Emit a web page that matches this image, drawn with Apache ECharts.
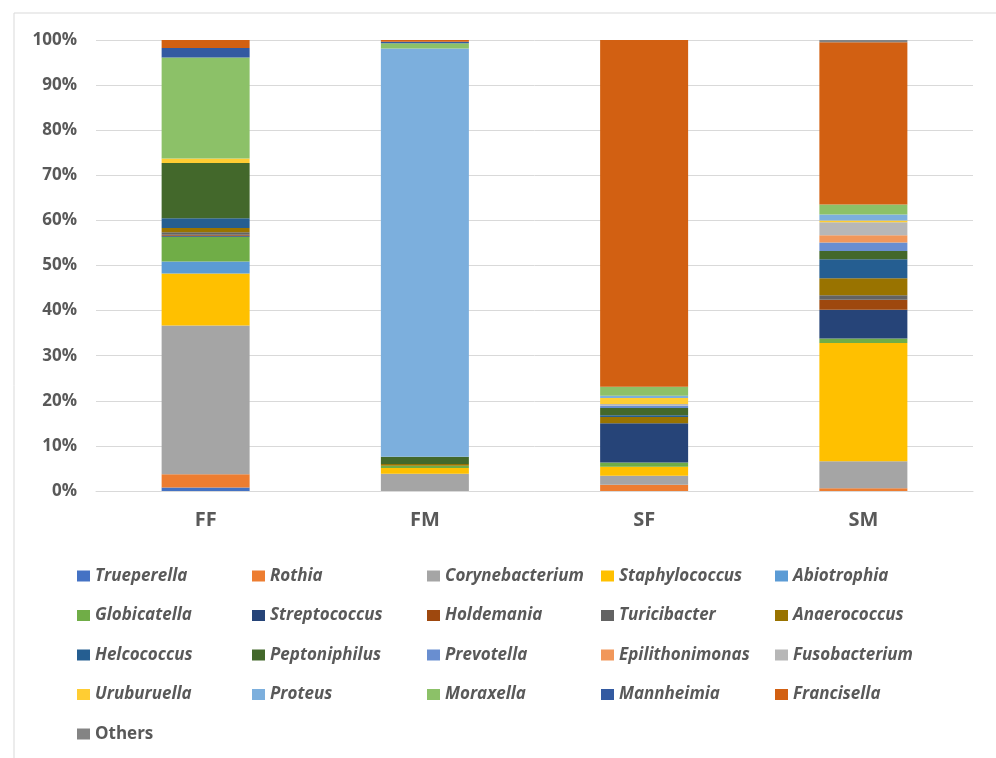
<!DOCTYPE html>
<html>
<head>
<meta charset="utf-8">
<script src="https://cdn.jsdelivr.net/npm/echarts@6/dist/echarts.min.js"></script>
<style>
html,body{margin:0;padding:0;background:#fff;}
#chart{width:996px;height:758px;}
</style>
</head>
<body>
<div id="chart"></div>
<script>
const categories = ['FF', 'FM', 'SF', 'SM'];
const yTickLabels = ['0%', '10%', '20%', '30%', '40%', '50%', '60%', '70%', '80%', '90%', '100%'];

// relative abundance (%) per genus, per sample FF, FM, SF, SM
const Trueperella      = [0.8, 0,    0,    0];
const Rothia           = [2.9, 0,    1.4,  0.6];
const Corynebacterium  = [33.0, 3.8, 2.0,  6.0];
const Staphylococcus   = [11.5, 1.3, 2.0,  26.2];
const Abiotrophia      = [2.7, 0,    0,    0];
const Globicatella     = [5.5, 0.5,  0.9,  1.0];
const Streptococcus    = [0.2, 0,    8.7,  6.4];
const Holdemania       = [0.2, 0,    0,    2.2];
const Turicibacter     = [0.6, 0,    0,    1.0];
const Anaerococcus     = [0.9, 0.4,  1.4,  3.8];
const Helcococcus      = [2.2, 0,    0.4,  4.2];
const Peptoniphilus    = [12.2, 1.6, 1.6,  1.8];
const Prevotella       = [0,   0,    0.5,  1.9];
const Epilithonimonas  = [0,   0,    0,    1.6];
const Fusobacterium    = [0,   0,    0.4,  2.9];
const Uruburuella      = [1.0, 0,    1.3,  0.4];
const Proteus          = [0,   90.5, 0.5,  1.3];
const Moraxella        = [22.4, 1.2, 2.0,  2.2];
const Mannheimia       = [2.1, 0.3,  0,    0];
const Francisella      = [1.8, 0.4,  76.9, 36.0];
const Others           = [0,   0,    0,    0.5];

const seriesNames = ['Trueperella','Rothia','Corynebacterium','Staphylococcus','Abiotrophia',
  'Globicatella','Streptococcus','Holdemania','Turicibacter','Anaerococcus',
  'Helcococcus','Peptoniphilus','Prevotella','Epilithonimonas','Fusobacterium',
  'Uruburuella','Proteus','Moraxella','Mannheimia','Francisella','Others'];
const seriesData = [Trueperella,Rothia,Corynebacterium,Staphylococcus,Abiotrophia,
  Globicatella,Streptococcus,Holdemania,Turicibacter,Anaerococcus,
  Helcococcus,Peptoniphilus,Prevotella,Epilithonimonas,Fusobacterium,
  Uruburuella,Proteus,Moraxella,Mannheimia,Francisella,Others];
const colors = ['#4472C4','#ED7D31','#A5A5A5','#FFC000','#5B9BD5',
  '#70AD47','#264478','#9E480E','#636363','#997300',
  '#255E91','#43682B','#698ED0','#F1975A','#B7B7B7',
  '#FFCD33','#7CAFDD','#8CC168','#335AA1','#D26012','#848484'];

const chart = echarts.init(document.getElementById('chart'));

const font = 'Open Sans, Noto Sans, sans-serif';
const legendCols = [77, 252, 427, 601, 775];
const legends = [];
for (let c = 0; c < 5; c++) {
  const items = [];
  for (let r = 0; r < 4; r++) items.push(seriesNames[r * 5 + c]);
  legends.push({
    orient: 'vertical',
    left: legendCols[c],
    top: 566,
    padding: 0,
    itemWidth: 13,
    itemHeight: 11,
    itemGap: 19.5,
    icon: 'rect',
    selectedMode: false,
    data: items,
    textStyle: { fontFamily: font, fontSize: 17, fontWeight: 'bold', fontStyle: 'italic', color: '#595959', lineHeight: 20 }
  });
}
legends.push({
  orient: 'vertical',
  left: legendCols[0],
  top: 724,
  padding: 0,
  itemWidth: 13,
  itemHeight: 11,
  icon: 'rect',
  selectedMode: false,
  data: ['Others'],
  textStyle: { fontFamily: font, fontSize: 17, fontWeight: 'bold', fontStyle: 'normal', color: '#595959', lineHeight: 20 }
});

const series = seriesNames.map((n, i) => ({
  name: n,
  type: 'bar',
  stack: 'total',
  barWidth: 88,
  data: seriesData[i],
  itemStyle: { color: colors[i] },
  emphasis: { disabled: true }
}));

chart.setOption({
  animation: false,
  backgroundColor: '#fff',
  color: colors,
  graphic: [
    { type: 'line', shape: { x1: 14, y1: 13, x2: 996, y2: 13 }, style: { stroke: '#D9D9D9', lineWidth: 1 } },
    { type: 'line', shape: { x1: 14, y1: 13, x2: 14, y2: 758 }, style: { stroke: '#D9D9D9', lineWidth: 1 } }
  ],
  grid: { left: 96, top: 40, width: 877, height: 451, containLabel: false },
  legend: legends,
  xAxis: {
    type: 'category',
    data: categories,
    axisLine: { show: true, lineStyle: { color: '#D9D9D9', width: 1 } },
    axisTick: { show: false },
    axisLabel: { fontFamily: font, fontSize: 20, fontWeight: 'bold', color: '#595959', margin: 19 }
  },
  yAxis: {
    type: 'value',
    min: 0,
    max: 100,
    interval: 10,
    axisLine: { show: false },
    axisTick: { show: false },
    splitLine: { lineStyle: { color: '#D9D9D9', width: 1 } },
    axisLabel: {
      fontFamily: font, fontSize: 17, fontWeight: 'bold', color: '#595959', margin: 19,
      formatter: v => yTickLabels[Math.round(v / 10)]
    }
  },
  series: series
});
</script>
</body>
</html>
